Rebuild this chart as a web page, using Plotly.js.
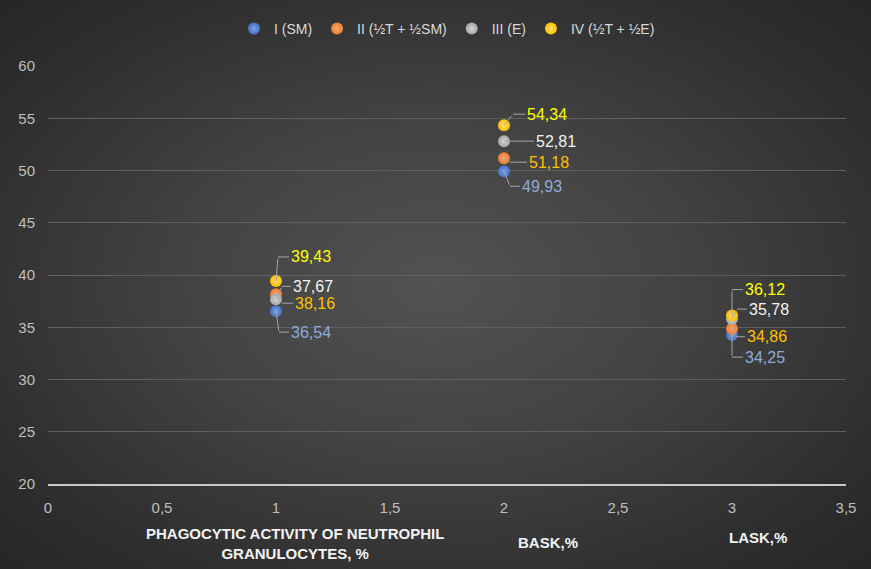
<!DOCTYPE html>
<html>
<head>
<meta charset="utf-8">
<script src="https://cdn.plot.ly/plotly-3.0.1.min.js"></script>
<style>
  html, body { margin: 0; padding: 0; }
  #chart {
    width: 871px; height: 569px;
    background: radial-gradient(ellipse at 50% 50%, #525252 0%, #434343 40%, #2e2e2e 80%, #262626 100%);
  }
</style>
</head>
<body>
<div id="chart"></div>
<script>
// Indicator groups along the x axis
const xPositions = [1, 2, 3];
const categoryLabels = [
  'PHAGOCYTIC ACTIVITY OF NEUTROPHIL<br>GRANULOCYTES, %',
  'BASK,%',
  'LASK,%'
];

// Series
const seriesNames = ['I (SM)', 'II (½T + ½SM)', 'III (E)', 'IV (½T + ½E)'];
const valuesI   = [36.54, 49.93, 34.25];
const valuesII  = [38.16, 51.18, 34.86];
const valuesIII = [37.67, 52.81, 35.78];
const valuesIV  = [39.43, 54.34, 36.12];
const seriesValues = [valuesI, valuesII, valuesIII, valuesIV];

// Styling
const markerColors = ['#4472c4', '#ed7d31', '#a5a5a5', '#ffc000'];
const markerHighlights = ['#7da0e0', '#f7a56f', '#d4d4d4', '#ffdc6a'];
const labelColors = ['#8eaadb', '#ffc000', '#f2f2f2', '#ffff00'];
const leaderColor = '#a6a6a6';

// Leader-line geometry for each data label, in pixels:
// [corner dx, corner dy (down positive), horizontal run to the text]
const labelOffsets = [
  [[3, 21, 10], [6, 15, 10], [0, 22, 11]],
  [[6, 9, 11], [6, 4, 17], [4, 8, 9]],
  [[6, -13, 9], [6, 0, 24], [5, -10, 10]],
  [[2, -24, 11], [9, -11, 12], [0, -26, 11]]
];

const fmt = v => v.toFixed(2).replace('.', ',');

const traces = seriesValues.map((vals, i) => ({
  type: 'scatter',
  mode: 'markers',
  name: seriesNames[i],
  x: xPositions,
  y: vals,
  marker: {
    size: 12,
    color: markerColors[i],
    gradient: { type: 'radial', color: markerHighlights[i] },
    line: { width: 0 }
  },
  hoverinfo: 'x+y+name'
}));

const annotations = [];
seriesValues.forEach((vals, i) => {
  vals.forEach((v, j) => {
    const [cx, cy, hx] = labelOffsets[i][j];
    // segment from the marker to the elbow
    annotations.push({
      x: xPositions[j], y: v, xref: 'x', yref: 'y',
      text: '', showarrow: true,
      ax: cx, ay: cy,
      arrowhead: 0, arrowwidth: 1, arrowcolor: leaderColor,
      standoff: 0, startstandoff: 0
    });
    // horizontal run from the elbow to the value text
    annotations.push({
      x: xPositions[j], y: v, xref: 'x', yref: 'y',
      xshift: cx, yshift: -cy,
      text: fmt(v), showarrow: true,
      ax: hx, ay: 0,
      xanchor: 'left', yanchor: 'middle',
      arrowhead: 0, arrowwidth: 1, arrowcolor: leaderColor,
      standoff: 0, startstandoff: 0,
      font: { family: 'Liberation Sans, Arial, sans-serif', size: 16, color: labelColors[i] }
    });
  });
});

// Category captions under the axis
const captionX = [1.083, 2.193, 3.114];
const captionY = [-0.1435, -0.141, -0.127];
categoryLabels.forEach((t, k) => {
  annotations.push({
    x: captionX[k], y: captionY[k], xref: 'x', yref: 'paper',
    text: '<b>' + t + '</b>', showarrow: false,
    xanchor: 'center', yanchor: 'middle', align: 'center',
    font: { family: 'Liberation Sans, Arial, sans-serif', size: 15, color: '#f2f2f2' }
  });
});

const layout = {
  width: 871, height: 569,
  margin: { l: 48, r: 25, t: 66, b: 85 },
  paper_bgcolor: 'rgba(0,0,0,0)',
  plot_bgcolor: 'rgba(0,0,0,0)',
  separators: ', ',
  font: { family: 'Liberation Sans, Arial, sans-serif', color: '#bfbfbf' },
  showlegend: true,
  legend: {
    orientation: 'h', x: 0.5, xanchor: 'center', y: 1.0885, yanchor: 'middle',
    font: { size: 14, color: '#d9d9d9' },
    itemwidth: 30, tracegroupgap: 0
  },
  xaxis: {
    range: [0, 3.5], dtick: 0.5, tick0: 0,
    showgrid: false, zeroline: false,
    showline: true, linecolor: '#c8c8c8', linewidth: 2,
    ticks: 'outside', ticklen: 9, tickcolor: 'rgba(0,0,0,0)',
    tickfont: { size: 15, color: '#bfbfbf' },
    fixedrange: true
  },
  yaxis: {
    range: [20, 60], dtick: 5, tick0: 20,
    showgrid: true, gridcolor: '#5f5f5f', gridwidth: 1,
    zeroline: false, showline: false,
    ticks: 'outside', ticklen: 9, tickcolor: 'rgba(0,0,0,0)',
    tickfont: { size: 15, color: '#bfbfbf' },
    fixedrange: true
  },
  annotations: annotations
};

Plotly.newPlot('chart', traces, layout, { displayModeBar: false, staticPlot: true });
</script>
</body>
</html>
